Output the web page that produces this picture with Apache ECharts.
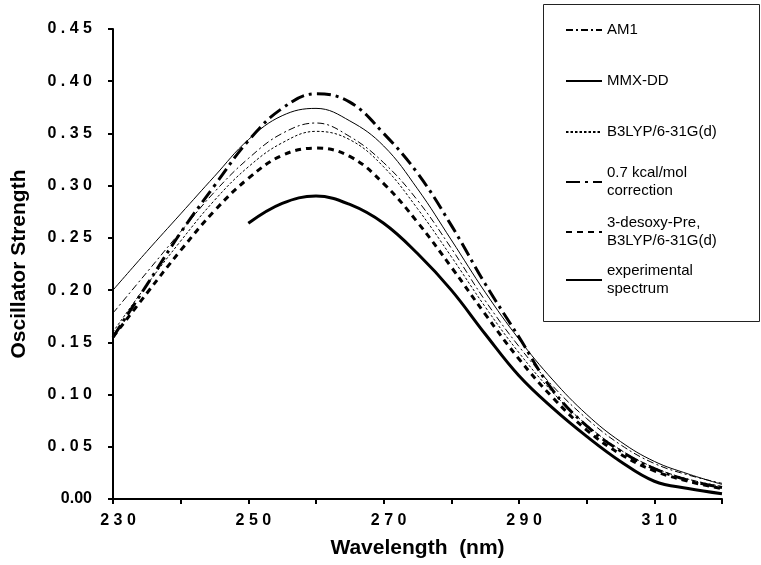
<!DOCTYPE html>
<html>
<head>
<meta charset="utf-8">
<script src="https://cdn.jsdelivr.net/npm/echarts@6/dist/echarts.min.js"></script>
<style>
    html, body { margin: 0; padding: 0; background: #fff; }
    #chart { width: 761px; height: 565px; }
</style>
</head>
<body>
<div id="chart"></div>
<script>
//波长 (nm)
var wavelengths = [230, 235, 240, 245, 250, 255, 260, 265, 270, 275, 280, 285, 290, 295, 300, 305, 310, 315, 320];

//各方法的振子强度
var am1 = [0.178, 0.217, 0.256, 0.294, 0.326, 0.350, 0.360, 0.347, 0.322, 0.286, 0.240, 0.190, 0.146, 0.108, 0.077, 0.052, 0.034, 0.023, 0.015];
var mmxdd = [0.200, 0.237, 0.273, 0.309, 0.344, 0.367, 0.374, 0.362, 0.338, 0.297, 0.248, 0.198, 0.153, 0.114, 0.081, 0.055, 0.036, 0.024, 0.014];
var b3lyp = [0.160, 0.205, 0.247, 0.286, 0.318, 0.341, 0.352, 0.344, 0.318, 0.278, 0.232, 0.184, 0.140, 0.102, 0.071, 0.047, 0.030, 0.019, 0.012];
var kcalCorr = [0.155, 0.205, 0.255, 0.300, 0.343, 0.374, 0.388, 0.380, 0.350, 0.312, 0.262, 0.206, 0.155, 0.104, 0.070, 0.046, 0.029, 0.018, 0.011];
var desoxy = [0.155, 0.197, 0.238, 0.276, 0.307, 0.329, 0.336, 0.328, 0.302, 0.265, 0.222, 0.177, 0.134, 0.097, 0.066, 0.043, 0.027, 0.017, 0.010];
var experimental = [null, null, null, null, 0.264, 0.283, 0.290, 0.282, 0.264, 0.235, 0.200, 0.158, 0.118, 0.087, 0.060, 0.036, 0.017, 0.010, 0.005];

var seriesNames = ['AM1', 'MMX-DD', 'B3LYP/6-31G(d)', '0.7 kcal/mol\ncorrection', '3-desoxy-Pre,\nB3LYP/6-31G(d)', 'experimental\nspectrum'];

var fontName = '"Liberation Sans", Arial, Helvetica, sans-serif';

function pairs(values) {
    var arr = [];
    for (var i = 0; i < wavelengths.length; i++) {
        arr.push([wavelengths[i], values[i]]);
    }
    return arr;
}

function makeLine(name, values, width, dash) {
    return {
        name: name,
        type: 'line',
        data: pairs(values),
        smooth: 0.4,
        symbol: 'none',
        connectNulls: false,
        lineStyle: { color: '#000', width: width, type: dash },
        itemStyle: { color: '#000' },
        emphasis: { disabled: true }
    };
}

//图例: 每个条目单独放置, 图标只画线
function makeLegend(name, iconY, twoLines) {
    return {
        data: [name],
        left: 565,
        top: twoLines ? iconY - 27 : iconY - 9,
        orient: 'vertical',
        padding: 0,
        itemWidth: 36,
        itemHeight: 14,
        itemStyle: { color: 'rgba(0,0,0,0)', borderWidth: 0, opacity: 0 },
        textStyle: {
            color: '#000',
            fontSize: 15,
            lineHeight: 18,
            fontFamily: fontName,
            padding: twoLines ? [18, 0, 0, 0] : 0
        }
    };
}

var chart = echarts.init(document.getElementById('chart'));
var option = {
    animation: false,
    backgroundColor: '#fff',
    grid: { left: 113, right: 39, top: 29, bottom: 66, containLabel: false },
    legend: [
        makeLegend(seriesNames[0], 30, false),
        makeLegend(seriesNames[1], 81, false),
        makeLegend(seriesNames[2], 132, false),
        makeLegend(seriesNames[3], 182, true),
        makeLegend(seriesNames[4], 232, true),
        makeLegend(seriesNames[5], 280, true)
    ],
    graphic: [{
        type: 'rect',
        shape: { x: 543.5, y: 4.5, width: 216, height: 317 },
        style: { fill: 'none', stroke: '#222', lineWidth: 1 },
        silent: true,
        z: 0
    }],
    xAxis: {
        type: 'value',
        min: 230,
        max: 320,
        interval: 10,
        name: 'Wavelength  (nm)',
        nameLocation: 'middle',
        nameGap: 39,
        nameTextStyle: { color: '#000', fontSize: 21, fontWeight: 'bold', fontFamily: fontName },
        axisLine: { lineStyle: { color: '#000', width: 2 } },
        axisTick: { show: true, inside: false, length: 5, lineStyle: { color: '#000', width: 2 } },
        axisLabel: {
            color: '#000',
            fontSize: 16,
            fontWeight: 'bold',
            fontFamily: fontName,
            margin: 14,
            padding: [0, 0, 0, 10],
            formatter: function (v) {
                if (v % 20 != 10)
                    return '';
                return String(v).split('').join(' ');
            }
        },
        splitLine: { show: false }
    },
    yAxis: {
        type: 'value',
        min: 0,
        max: 0.45,
        interval: 0.05,
        name: 'Oscillator Strength',
        nameLocation: 'middle',
        nameGap: 83,
        nameTextStyle: { color: '#000', fontSize: 21, fontWeight: 'bold', fontFamily: fontName },
        axisLine: { lineStyle: { color: '#000', width: 2 } },
        axisTick: { show: true, inside: false, length: 5, lineStyle: { color: '#000', width: 2 } },
        axisLabel: {
            color: '#000',
            fontSize: 16,
            fontWeight: 'bold',
            fontFamily: fontName,
            margin: 21,
            formatter: function (v) {
                if (v == 0)
                    return '0.00';
                return v.toFixed(2).split('').join(' ');
            }
        },
        splitLine: { show: false }
    },
    series: [
        makeLine(seriesNames[0], am1, 1, [7, 3, 2, 3]),
        makeLine(seriesNames[1], mmxdd, 1, 'solid'),
        makeLine(seriesNames[2], b3lyp, 1, [2.5, 2]),
        makeLine(seriesNames[3], kcalCorr, 3, [14, 5, 3, 5]),
        makeLine(seriesNames[4], desoxy, 3, [6, 5]),
        makeLine(seriesNames[5], experimental, 3, 'solid')
    ]
};
chart.setOption(option);
</script>
</body>
</html>
